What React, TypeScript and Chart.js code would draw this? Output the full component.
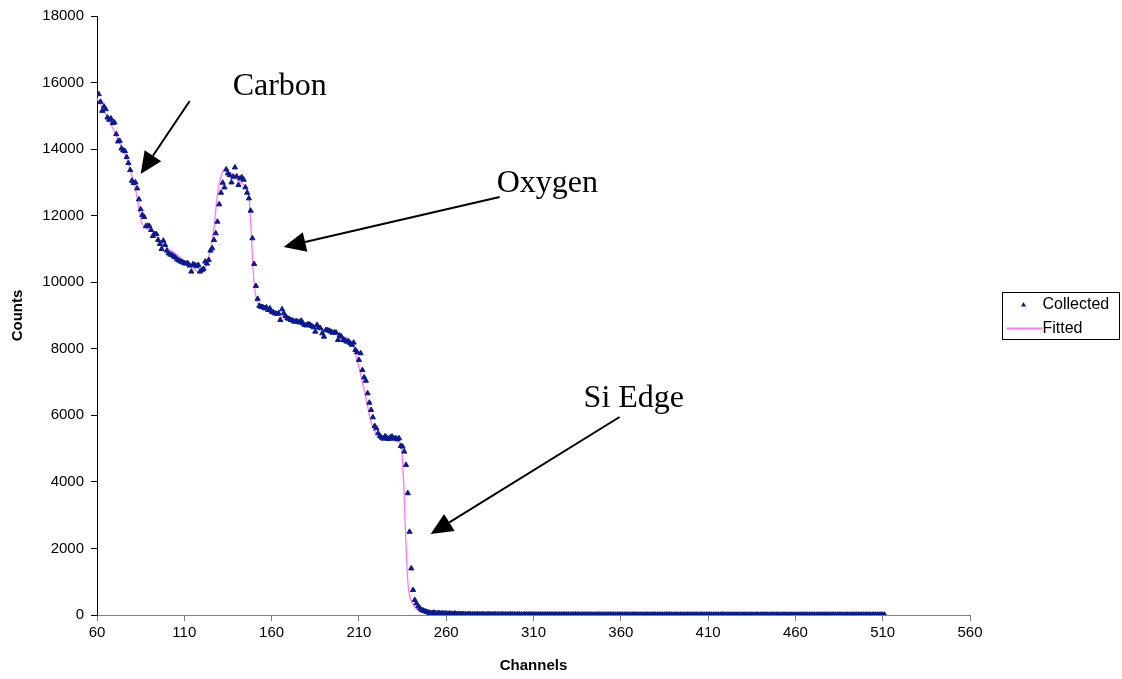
import React, { useEffect, useRef } from "react";
import { Chart, registerables } from "chart.js";

Chart.register(...registerables);

// ---------- DATA ----------
const FIRST_CHANNEL = 60;

// Collected counts, channels 60..250
const collectedHead: number[] = [
  15700, 15650, 15420, 15150, 15280, 15200, 14950, 14880, 14920, 14780,
  14800, 14450, 14230, 14250, 14020, 13960, 13940, 13760, 13580, 13370,
  13050, 12980, 13000, 12820, 12490, 12190, 12020, 11960, 11680, 11700,
  11690, 11570, 11390, 11450, 11450, 11270, 11150, 11000, 11250, 11120,
  10950, 10870, 10830, 10820, 10770, 10740, 10680, 10650, 10620, 10600,
  10570, 10560, 10570, 10500, 10320, 10540, 10520, 10480, 10520, 10320,
  10370, 10400, 10620, 10560, 10670, 10950, 11020, 11270, 11470, 11820,
  12340, 12690, 12990, 12850, 13390, 13270, 13220, 13000, 13170, 13450,
  13180, 12920, 13120, 13150, 13080, 12850, 12690, 12520, 12150, 11320,
  10550, 9890, 9500, 9290, 9260, 9250, 9215, 9245, 9165, 9215,
  9115, 9090, 9065, 9050, 9065, 8865, 9185, 9065, 8980, 8915,
  8900, 8865, 8850, 8815, 8830, 8815, 8790, 8845, 8760, 8715,
  8700, 8745, 8720, 8685, 8645, 8515, 8715, 8640, 8615, 8465,
  8365, 8560, 8565, 8540, 8515, 8480, 8500, 8485, 8265, 8400,
  8365, 8265, 8250, 8215, 8220, 8165, 8120, 8185, 7965, 7895,
  7665, 7865, 7360, 7140, 7040, 6660, 6380, 6160, 5940, 5680,
  5610, 5460, 5380, 5330, 5300, 5370, 5330, 5290, 5340, 5360,
  5300, 5320, 5280, 5310, 5080, 5060, 4910, 4510, 3660, 2500,
  1400, 750, 450, 350, 260, 200, 150, 130, 110, 90,
  70,
];

// Collected counts, channels 251..511
const collectedTail: number[] = [
  62, 58, 70, 52, 49, 60, 44, 55, 41, 47, 36, 44, 38, 31, 46, 29, 34, 27, 31, 24,
  26, 21, 30, 19, 24, 18, 22, 27, 17, 20, 23, 16, 21, 19, 25, 15, 18, 22, 14, 20,
  17, 21, 15, 19, 13, 18, 22, 14, 16, 12, 19, 15, 17, 11, 20, 14, 16, 13, 18, 12,
  15, 11, 17, 13, 16, 10, 14, 18, 12, 15, 11, 13, 16, 10, 14, 12, 17, 11, 13, 15,
  10, 14, 12, 16, 11, 13, 9, 15, 12, 10, 14, 11, 13, 9, 12, 15, 10, 13, 11, 12,
  9, 13, 11, 14, 10, 12, 8, 13, 11, 10, 12, 9, 14, 10, 11, 8, 12, 10, 13, 9,
  11, 10, 12, 8, 13, 9, 11, 10, 12, 7, 11, 9, 12, 10, 8, 11, 9, 13, 10, 8,
  10, 12, 9, 11, 8, 10, 7, 12, 9, 11, 10, 8, 11, 9, 7, 10, 12, 8, 9, 11,
  8, 10, 9, 11, 7, 10, 8, 12, 9, 7, 10, 8, 11, 9, 10, 7, 9, 11, 8, 10,
  9, 7, 10, 8, 11, 9, 8, 10, 7, 9, 11, 8, 10, 9, 7, 8, 10, 9, 11, 8,
  7, 9, 10, 8, 9, 7, 11, 8, 10, 9, 7, 8, 10, 9, 8, 11, 7, 9, 10, 8,
  9, 8, 7, 10, 9, 8, 11, 7, 9, 8, 10, 9, 7, 8, 10, 9, 8, 7, 9, 10,
  8, 9, 7, 10, 8, 9, 7, 8, 10, 9, 8, 7, 9, 8, 10, 7, 9, 8, 9, 7, 8,
];

// Fitted curve
const fitChannels: number[] = [
  60, 63, 66, 70, 74, 78, 81, 83, 84.5, 85.5, 88, 92, 96, 100, 104, 108, 113,
  117, 119, 121, 123, 125, 127, 129, 131, 133, 135, 138, 141, 144, 146, 147.2,
  148.2, 149.2, 150.2, 151.5, 153, 156, 160, 166, 175, 186, 195, 200, 204,
  206.5, 208.5, 210.5, 214.3, 217, 219, 221, 224, 229.5, 233, 234.5, 235.2,
  235.8, 236.4, 237.2, 238.1, 239, 240, 241.5, 243, 246, 250, 255, 511,
];
const fitCounts: number[] = [
  15530, 15250, 14950, 14520, 14070, 13560, 13000, 12550, 12070, 11800, 11650,
  11500, 11250, 11040, 10900, 10720, 10520, 10330, 10280, 10350, 10550, 11000,
  11650, 12650, 13180, 13370, 13300, 13250, 13050, 12930, 12820, 12500, 11650,
  10550, 9850, 9450, 9320, 9220, 9120, 8970, 8800, 8660, 8470, 8380, 8300,
  8120, 7760, 7350, 6460, 5780, 5520, 5420, 5340, 5280, 5180, 4950, 4400,
  3800, 2850, 1850, 950, 600, 420, 280, 190, 90, 30, 10, 0,
];

const xTicks: number[] = [60, 110, 160, 210, 260, 310, 360, 410, 460, 510, 560];
const yTicks: number[] = [0, 2000, 4000, 6000, 8000, 10000, 12000, 14000, 16000, 18000];

const seriesNames: string[] = ["Collected", "Fitted"];

// Annotations (data coordinates)
const annotationLabels: string[] = ["Carbon", "Oxygen", "Si Edge"];
const annotationTextX: number[] = [137.7, 288.9, 338.7];
const annotationTextY: number[] = [15620, 12711, 6265];
const arrowFromX: number[] = [113.1, 290.6, 359.3];
const arrowFromY: number[] = [15446, 12561, 5950];
const arrowToX: number[] = [85.0, 166.9, 251.1];
const arrowToY: number[] = [13252, 11058, 2434];

// ---------- STYLE ----------
const SANS = '"Liberation Sans", Arial, Helvetica, sans-serif';
const SERIF = '"Liberation Serif", "Times New Roman", serif';
const POINT_COLOR = "#0A1A90";
const FIT_COLOR = "#FF77FF";

const annotationPlugin = {
  id: "arrowAnnotations",
  afterDatasetsDraw(chart: any) {
    const { ctx } = chart;
    const xs = chart.scales.x;
    const ys = chart.scales.y;
    ctx.save();
    ctx.fillStyle = "#000";
    ctx.strokeStyle = "#000";
    ctx.font = `32px ${SERIF}`;
    ctx.textAlign = "left";
    ctx.textBaseline = "alphabetic";
    for (let i = 0; i < annotationLabels.length; i++) {
      ctx.fillText(
        annotationLabels[i],
        xs.getPixelForValue(annotationTextX[i]),
        ys.getPixelForValue(annotationTextY[i])
      );
      const x1 = xs.getPixelForValue(arrowFromX[i]);
      const y1 = ys.getPixelForValue(arrowFromY[i]);
      const x2 = xs.getPixelForValue(arrowToX[i]);
      const y2 = ys.getPixelForValue(arrowToY[i]);
      const ang = Math.atan2(y2 - y1, x2 - x1);
      const hl = 22;
      const hw = 10;
      const bx = x2 - hl * Math.cos(ang);
      const by = y2 - hl * Math.sin(ang);
      ctx.lineWidth = 2;
      ctx.beginPath();
      ctx.moveTo(x1, y1);
      ctx.lineTo(bx, by);
      ctx.stroke();
      ctx.beginPath();
      ctx.moveTo(x2, y2);
      ctx.lineTo(bx + hw * Math.sin(ang), by - hw * Math.cos(ang));
      ctx.lineTo(bx - hw * Math.sin(ang), by + hw * Math.cos(ang));
      ctx.closePath();
      ctx.fill();
    }
    ctx.restore();
  },
};

const boxLegendPlugin = {
  id: "boxLegend",
  afterDraw(chart: any) {
    const { ctx, chartArea } = chart;
    const w = 117;
    const h = 47;
    const left = Math.round(chartArea.right + 32) + 0.5;
    const top = Math.round((chartArea.top + chartArea.bottom) / 2 - h / 2) + 0.5;
    ctx.save();
    ctx.strokeStyle = "#000";
    ctx.lineWidth = 1;
    ctx.strokeRect(left, top, w, h);
    // Collected marker
    const my = top + 12;
    const mx = left + 21;
    ctx.fillStyle = POINT_COLOR;
    ctx.beginPath();
    ctx.moveTo(mx, my - 2.5);
    ctx.lineTo(mx + 2.5, my + 2);
    ctx.lineTo(mx - 2.5, my + 2);
    ctx.closePath();
    ctx.fill();
    // Fitted line
    const ly = top + 36;
    ctx.strokeStyle = FIT_COLOR;
    ctx.lineWidth = 2;
    ctx.beginPath();
    ctx.moveTo(left + 4, ly);
    ctx.lineTo(left + 40, ly);
    ctx.stroke();
    ctx.fillStyle = "#000";
    ctx.font = `16px ${SANS}`;
    ctx.textAlign = "left";
    ctx.textBaseline = "middle";
    ctx.fillText(seriesNames[0], left + 40, my);
    ctx.fillText(seriesNames[1], left + 40, ly);
    ctx.restore();
  },
};

export default function App() {
  const canvasRef = useRef<HTMLCanvasElement | null>(null);

  useEffect(() => {
    const canvas = canvasRef.current;
    if (!canvas) return;
    const allCollected = [...collectedHead, ...collectedTail];
    const collectedPoints = allCollected.map((v, i) => ({ x: FIRST_CHANNEL + i, y: v }));
    const fitPoints = fitChannels.map((c, i) => ({ x: c, y: fitCounts[i] }));

    const chart = new Chart(canvas, {
      type: "scatter",
      data: {
        datasets: [
          {
            label: seriesNames[0],
            data: collectedPoints,
            showLine: false,
            pointStyle: "triangle",
            pointRadius: 3,
            pointBackgroundColor: POINT_COLOR,
            pointBorderColor: POINT_COLOR,
            pointBorderWidth: 1,
          },
          {
            label: seriesNames[1],
            data: fitPoints,
            showLine: true,
            borderColor: FIT_COLOR,
            borderWidth: 1.3,
            pointRadius: 0,
            cubicInterpolationMode: "monotone",
          },
        ],
      },
      plugins: [annotationPlugin, boxLegendPlugin],
      options: {
        responsive: false,
        animation: false,
        events: [],
        layout: { padding: { left: 0, top: 16, right: 152, bottom: 0 } },
        plugins: {
          legend: { display: false },
          tooltip: { enabled: false },
          title: { display: false },
        },
        scales: {
          x: {
            type: "linear",
            min: 60,
            max: 560,
            afterBuildTicks: (s: any) => {
              s.ticks = xTicks.map((v) => ({ value: v }));
            },
            afterFit: (s: any) => {
              s.height = 64;
            },
            grid: {
              display: true,
              drawOnChartArea: false,
              drawTicks: true,
              tickLength: 6,
              color: "#808080",
            },
            border: { display: true, color: "#808080", width: 1 },
            ticks: {
              color: "#000",
              font: { family: SANS, size: 15 },
              padding: 3,
              maxRotation: 0,
              autoSkip: false,
            },
            title: {
              display: true,
              text: "Channels",
              color: "#000",
              font: { family: SANS, size: 15, weight: "bold" },
              padding: { top: 0, bottom: 4 },
            },
          },
          y: {
            type: "linear",
            min: 0,
            max: 18000,
            afterBuildTicks: (s: any) => {
              s.ticks = yTicks.map((v) => ({ value: v }));
            },
            afterFit: (s: any) => {
              s.width = 97;
            },
            grid: {
              display: true,
              drawOnChartArea: false,
              drawTicks: true,
              tickLength: 6,
              color: "#000",
            },
            border: { display: true, color: "#000", width: 1 },
            ticks: {
              color: "#000",
              font: { family: SANS, size: 15 },
              padding: 7,
              autoSkip: false,
              callback: (v: any) => String(v),
            },
            title: {
              display: true,
              text: "Counts",
              color: "#000",
              font: { family: SANS, size: 15, weight: "bold" },
              padding: { top: 9, bottom: 0 },
            },
          },
        },
      } as any,
    });
    return () => chart.destroy();
  }, []);

  return (
    <div style={{ position: "absolute", left: 0, top: 0, width: 1122, height: 679, background: "#fff" }}>
      <canvas ref={canvasRef} width={1122} height={679} style={{ display: "block" }} />
    </div>
  );
}
